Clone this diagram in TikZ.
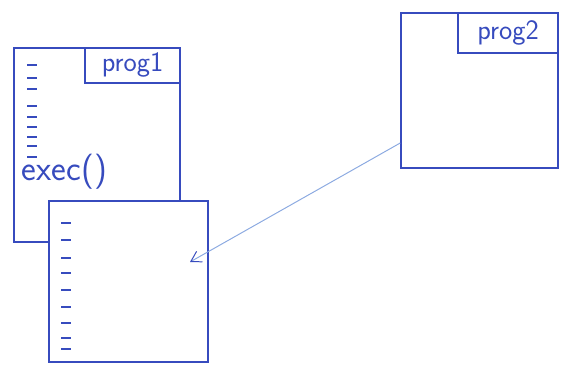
\documentclass[tikz,border=0pt]{standalone}
\usetikzlibrary{arrows.meta,positioning,calc}
\definecolor{penBlue}{RGB}{55, 75, 190}
\definecolor{penLightBlue}{RGB}{140, 170, 225}

\begin{document}
\begin{tikzpicture}[
  x=0.025cm, y=-0.025cm,
  procbox/.style={
    draw=penBlue,
    line width=1.1pt,
    fill=white,
    inner sep=0pt
  },
  namebox/.style={
    draw=penBlue,
    line width=1pt,
    inner sep=0pt,
    text=penBlue,
    font=\fontsize{20}{24}\selectfont\sffamily
  },
  tick/.style={penBlue,line width=0.9pt},
  arrow/.style={-{Straight Barb[length=2.5mm,width=3mm,color=penBlue]},penLightBlue,line width=0.7pt}
]
  \useasboundingbox (0,0) rectangle (571,375);
  % first program
  \node[procbox,minimum width=4.15cm,minimum height=4.85cm] (prog1) at (97,145) {};
  \node[namebox,minimum width=2.375cm,minimum height=0.875cm,anchor=north east] (name1) at (prog1.north east) {prog1};
  \foreach \y in {65,78,89,106,117,127,137,146,157}
    \draw[tick] (27,\y) -- (37,\y);
  \node[anchor=west,text=penBlue,font=\fontsize{25}{28}\selectfont\sffamily] (call) at (17,172) {exec()};
  % image that replaces it
  \node[procbox,minimum width=3.975cm,minimum height=4.025cm] (image) at (128.5,281.5) {};
  \foreach \y in {223,240,258,273,290,307,323,338,349}
    \draw[tick] (61,\y) -- (71,\y);
  % second program
  \node[procbox,minimum width=3.925cm,minimum height=3.875cm] (prog2) at (479.5,90.5) {};
  \node[namebox,minimum width=2.5cm,minimum height=1cm,anchor=north east] (name2) at (prog2.north east) {prog2};
  \coordinate (src) at ($(prog2.west)+(0,52.5)$);
  \coordinate (dst) at (190,262);
  \draw[arrow] (src) -- (dst);
\end{tikzpicture}
\end{document}
